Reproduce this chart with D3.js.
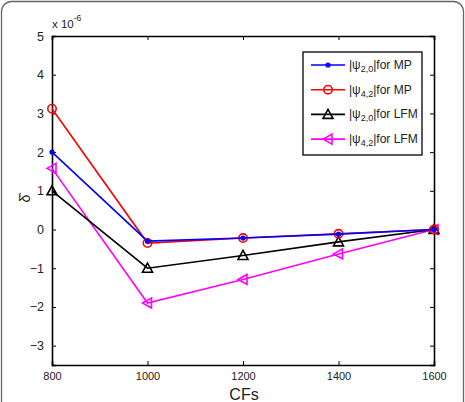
<!DOCTYPE html>
<html>
<head>
<meta charset="utf-8">
<script src="https://cdn.jsdelivr.net/npm/d3@7"></script>
<style>
  body { margin: 0; background: #fff; }
  text { font-family: "Liberation Sans", Arial, sans-serif; }
</style>
</head>
<body>
<div id="vis"></div>
<script>
const layout = {
    width: 465,
    height: 402,
    left: 52,
    right: 434,
    top: 36,
    bottom: 365
};

// data (values in units of 1e-6)
const cfs = [800, 1000, 1200, 1400, 1600];
const mpPsi20 = [2.0, -0.30, -0.22, -0.12, 0];
const mpPsi42 = [3.12, -0.35, -0.22, -0.11, 0];
const lfmPsi20 = [1.0, -1.0, -0.67, -0.32, 0];
const lfmPsi42 = [1.58, -1.9, -1.29, -0.63, 0];
const xTicks = [800, 1000, 1200, 1400, 1600];
const yTicks = [-3, -2, -1, 0, 1, 2, 3, 4, 5];

const series = [
    {sub: "2,0", tail: "for MP", values: mpPsi20, color: "#0000ff", marker: "dot"},
    {sub: "4,2", tail: "for MP", values: mpPsi42, color: "#ff0000", marker: "circle"},
    {sub: "2,0", tail: "for LFM", values: lfmPsi20, color: "#000000", marker: "triangle"},
    {sub: "4,2", tail: "for LFM", values: lfmPsi42, color: "#ff00ff", marker: "left"}
];

let svg = d3.select("#vis").append("svg")
    .attr("width", layout.width)
    .attr("height", layout.height);

// outer frame
svg.append("rect")
    .attr("x", 1.5).attr("y", 1.5)
    .attr("width", 462).attr("height", 420)
    .attr("rx", 10)
    .attr("fill", "none")
    .attr("stroke", "#666")
    .attr("stroke-width", 1.3);

let xScale = d3.scaleLinear().domain([800, 1600]).range([layout.left, layout.right]);
let yScale = d3.scaleLinear().domain([-3.5, 5]).range([layout.bottom, layout.top]);

// axes, ticks pointing inward like matlab
let xAxis = svg.append("g")
    .attr("transform", `translate(0,${layout.bottom})`)
    .call(d3.axisBottom(xScale).tickValues(xTicks).tickSize(-4).tickPadding(7).tickFormat(d3.format("d")));
let xAxisTop = svg.append("g")
    .attr("transform", `translate(0,${layout.top})`)
    .call(d3.axisTop(xScale).tickValues(xTicks).tickSize(-4).tickFormat(""));
let yAxis = svg.append("g")
    .attr("transform", `translate(${layout.left},0)`)
    .call(d3.axisLeft(yScale).tickValues(yTicks).tickSize(-4).tickPadding(8));
let yAxisRight = svg.append("g")
    .attr("transform", `translate(${layout.right},0)`)
    .call(d3.axisRight(yScale).tickValues(yTicks).tickSize(-4).tickFormat(""));

[xAxis, xAxisTop, yAxis, yAxisRight].forEach(a => {
    a.select(".domain").attr("stroke", "#000").attr("stroke-width", 1.6);
    a.selectAll(".tick line").attr("stroke", "#000").attr("stroke-width", 1);
    a.selectAll("text").attr("fill", "#222").attr("font-size", 11);
});
yAxis.selectAll("text").attr("font-size", 12.5);
// hide ticks that sit on the box corners
[xAxis, xAxisTop].forEach(a => a.selectAll(".tick line").filter(d => d === 800 || d === 1600).remove());

// exponent label
let expo = svg.append("text")
    .attr("x", layout.left)
    .attr("y", 28)
    .attr("font-size", 11.5)
    .attr("fill", "#222");
expo.append("tspan").text("x 10");
expo.append("tspan").attr("dy", -7).attr("font-size", 8.5).text("-6");

// axis titles
svg.append("text")
    .attr("x", (layout.left + layout.right) / 2 + 1)
    .attr("y", 400)
    .attr("text-anchor", "middle")
    .attr("font-size", 16)
    .attr("fill", "#222")
    .text("CFs");
svg.append("text")
    .attr("transform", `translate(30,${yScale(0.8)}) rotate(-90)`)
    .attr("text-anchor", "middle")
    .attr("font-size", 14)
    .attr("fill", "#222")
    .text("\u03b4\u0302");

function drawMarker(g, type, color, x, y) {
    if (type === "dot") {
        g.append("circle").attr("cx", x).attr("cy", y).attr("r", 2.6).attr("fill", color);
    } else if (type === "circle") {
        g.append("circle").attr("cx", x).attr("cy", y).attr("r", 4.2)
            .attr("fill", "none").attr("stroke", color).attr("stroke-width", 1.6);
    } else if (type === "triangle") {
        g.append("path").attr("d", `M${x},${y - 5} L${x + 5},${y + 4} L${x - 5},${y + 4} Z`)
            .attr("fill", "none").attr("stroke", color).attr("stroke-width", 1.6);
    } else {
        g.append("path").attr("d", `M${x - 5},${y} L${x + 4},${y - 5} L${x + 4},${y + 5} Z`)
            .attr("fill", "none").attr("stroke", color).attr("stroke-width", 1.6);
    }
}

let line = d3.line()
    .x((d, i) => xScale(cfs[i]))
    .y(d => yScale(d));

// draw in reverse so the blue/red series sit on top
series.slice().reverse().forEach(s => {
    let g = svg.append("g");
    g.append("path")
        .datum(s.values)
        .attr("fill", "none")
        .attr("stroke", s.color)
        .attr("stroke-width", 1.6)
        .attr("d", line);
    s.values.forEach((v, i) => drawMarker(g, s.marker, s.color, xScale(cfs[i]), yScale(v)));
});

// legend
let legend = svg.append("g");
legend.append("rect")
    .attr("x", 303).attr("y", 52)
    .attr("width", 119).attr("height", 103)
    .attr("fill", "#fff")
    .attr("stroke", "#000")
    .attr("stroke-width", 1.3);
series.forEach((s, i) => {
    let y = 65 + i * 24.7;
    legend.append("line")
        .attr("x1", 311).attr("x2", 345)
        .attr("y1", y).attr("y2", y)
        .attr("stroke", s.color).attr("stroke-width", 1.6);
    drawMarker(legend, s.marker, s.color, 328, y);
    let t = legend.append("text")
        .attr("x", 349).attr("y", y + 4)
        .attr("font-size", 12)
        .attr("fill", "#222");
    t.append("tspan").text("|\u03c8");
    t.append("tspan").attr("dy", 3).attr("font-size", 9).text(s.sub);
    t.append("tspan").attr("dy", -3).text("|" + s.tail);
});
</script>
</body>
</html>
